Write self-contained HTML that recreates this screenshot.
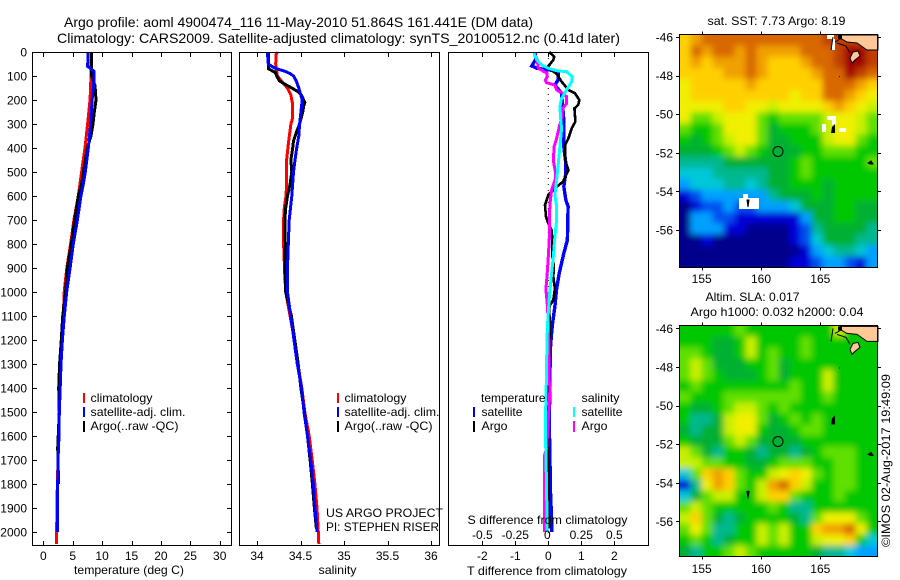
<!DOCTYPE html>
<html>
<head>
<meta charset="utf-8">
<title>Argo profile 4900474_116</title>
<style>
html,body{margin:0;padding:0;background:#fff;}
svg{display:block;font-family:"Liberation Sans",sans-serif;font-size:12px;fill:#000;}
</style>
</head>
<body>
<svg id="fig" width="900" height="580" viewBox="0 0 900 580" xmlns="http://www.w3.org/2000/svg">
<defs>
<filter id="soft" x="-10%" y="-10%" width="120%" height="120%"><feGaussianBlur stdDeviation="3.2"/></filter>
<clipPath id="clipA"><rect x="679.5" y="34.5" width="198" height="233"/></clipPath>
<clipPath id="clipB"><rect x="679.5" y="325.5" width="198" height="231"/></clipPath>
</defs>
<rect x="0" y="0" width="900" height="580" fill="#fff"/>
<text x="64" y="27" font-size="14" textLength="469" lengthAdjust="spacingAndGlyphs">Argo profile: aoml 4900474_116 11-May-2010 51.864S 161.441E (DM data)</text>
<text x="57" y="43" font-size="14" textLength="563" lengthAdjust="spacingAndGlyphs">Climatology: CARS2009. Satellite-adjusted climatology: synTS_20100512.nc (0.41d later)</text>

<g id="p1"></g>
<g id="p2"></g>
<g id="p3"></g>

<rect x="32.5" y="52.5" width="199" height="493" fill="none" stroke="#000"/>
<rect x="239.5" y="52.5" width="200" height="493" fill="none" stroke="#000"/>
<rect x="448.5" y="52.5" width="200" height="493" fill="none" stroke="#000"/>

<text x="74" y="574" textLength="110" lengthAdjust="spacingAndGlyphs">temperature (deg C)</text>
<text x="318.5" y="574" textLength="38" lengthAdjust="spacingAndGlyphs">salinity</text>
<text x="467" y="575" textLength="160" lengthAdjust="spacingAndGlyphs">T difference from climatology</text>
<text x="467.5" y="524" textLength="160" lengthAdjust="spacingAndGlyphs">S difference from climatology</text>
<text x="326" y="517" textLength="117" lengthAdjust="spacingAndGlyphs">US ARGO PROJECT</text>
<text x="326" y="531" textLength="113" lengthAdjust="spacingAndGlyphs">PI: STEPHEN RISER</text>

<g>
<rect x="83" y="393" width="2" height="10" fill="#f00"/><text x="90.5" y="402" textLength="62" lengthAdjust="spacingAndGlyphs">climatology</text>
<rect x="83" y="407" width="2" height="10" fill="#00f"/><text x="90.5" y="416" textLength="95" lengthAdjust="spacingAndGlyphs">satellite-adj. clim.</text>
<rect x="83" y="421" width="2" height="11" fill="#000"/><text x="90.5" y="430" textLength="88" lengthAdjust="spacingAndGlyphs">Argo(..raw -QC)</text>
</g>
<g>
<rect x="337" y="393" width="2" height="10" fill="#f00"/><text x="344.5" y="402" textLength="62" lengthAdjust="spacingAndGlyphs">climatology</text>
<rect x="337" y="407" width="2" height="10" fill="#00f"/><text x="344.5" y="416" textLength="95" lengthAdjust="spacingAndGlyphs">satellite-adj. clim.</text>
<rect x="337" y="421" width="2" height="11" fill="#000"/><text x="344.5" y="430" textLength="88" lengthAdjust="spacingAndGlyphs">Argo(..raw -QC)</text>
</g>
<g>
<text x="481" y="402" textLength="64.5" lengthAdjust="spacingAndGlyphs">temperature</text>
<rect x="473" y="407" width="2" height="10" fill="#00f"/><text x="481.5" y="416" textLength="41" lengthAdjust="spacingAndGlyphs">satellite</text>
<rect x="473" y="421" width="2" height="11" fill="#000"/><text x="481.5" y="430" textLength="26" lengthAdjust="spacingAndGlyphs">Argo</text>
<text x="581.5" y="402" textLength="38" lengthAdjust="spacingAndGlyphs">salinity</text>
<rect x="573" y="407" width="2" height="10" fill="#0ff"/><text x="581.5" y="416" textLength="41" lengthAdjust="spacingAndGlyphs">satellite</text>
<rect x="573" y="421" width="2" height="11" fill="#f0f"/><text x="581.5" y="430" textLength="26" lengthAdjust="spacingAndGlyphs">Argo</text>
</g>

<text x="707.5" y="25" textLength="138" lengthAdjust="spacingAndGlyphs">sat. SST: 7.73  Argo: 8.19</text>
<text x="705.5" y="301" textLength="94" lengthAdjust="spacingAndGlyphs">Altim. SLA: 0.017</text>
<text x="690.5" y="316" textLength="173" lengthAdjust="spacingAndGlyphs">Argo h1000: 0.032 h2000: 0.04</text>

<g clip-path="url(#clipA)"><g id="mapA" filter="url(#soft)"></g></g>
<g clip-path="url(#clipB)"><g id="mapB" filter="url(#soft)"></g></g>

<g id="whiteA" fill="#fff">
<rect x="827" y="116" width="9" height="4"/><rect x="832" y="120" width="4" height="5"/><rect x="822" y="124" width="4" height="8"/><rect x="839" y="128" width="7" height="4"/>
<rect x="739" y="198" width="20" height="11"/><rect x="743" y="194" width="5" height="4"/>
<rect x="827" y="35" width="7" height="4"/><rect x="832" y="39" width="3" height="11"/>
</g>

<g id="coastA" transform="translate(0,0)">
<path d="M840 35L878 35L878 50L867 50L857 43L847 42L840 38Z" fill="#ffc896" stroke="#000"/>
<path d="M833 37L831 50M835 42L842 38M837 43L846 46L850 53" fill="none" stroke="#000"/>
<path d="M850 58L853 52L858 51L860 56L855 60L852 63Z" fill="#ffc896" stroke="#000"/>
<rect x="838" y="35" width="4" height="4" fill="#000"/>
<path d="M831 133L832 127L835 124L835 133L832 133Z" fill="#000"/>
<path d="M747 200L749 200L748 207Z" fill="#000" stroke="#000"/>
<path d="M868 163L871 161L873 164L870 164Z" fill="#000" stroke="#000"/>
<rect x="839" y="76" width="1" height="1" fill="#000"/>
</g>
<g id="coastB" transform="translate(0,291.4)">
<path d="M840 35L878 35L878 50L867 50L857 43L847 42L840 38Z" fill="#ffc896" stroke="#000"/>
<path d="M833 37L831 50M835 42L842 38M837 43L846 46L850 53" fill="none" stroke="#000"/>
<path d="M850 58L853 52L858 51L860 56L855 60L852 63Z" fill="#ffc896" stroke="#000"/>
<rect x="838" y="35" width="4" height="4" fill="#000"/>
<path d="M831 133L832 127L835 124L835 133L832 133Z" fill="#000"/>
<path d="M747 200L749 200L748 207Z" fill="#000" stroke="#000"/>
<path d="M868 163L871 161L873 164L870 164Z" fill="#000" stroke="#000"/>
<rect x="839" y="76" width="1" height="1" fill="#000"/>
</g>

<circle cx="778" cy="151.5" r="5" fill="none" stroke="#000"/>
<circle cx="778" cy="441.5" r="5" fill="none" stroke="#000"/>
<rect x="679.5" y="34.5" width="198" height="233" fill="none" stroke="#000"/>
<rect x="679.5" y="325.5" width="198" height="231" fill="none" stroke="#000"/>
<text transform="translate(890,547) rotate(-90)" textLength="173" lengthAdjust="spacingAndGlyphs">©IMOS 02-Aug-2017 19:49:09</text>
<g id="overlay"></g>
</svg>

<script>
// ----- axis data -----
const depthTicks = [0,100,200,300,400,500,600,700,800,900,1000,1100,1200,1300,1400,1500,1600,1700,1800,1900,2000];
const tempTicks = [0,5,10,15,20,25,30];
const salTicks = [34,34.5,35,35.5,36];
const salTickLabels = ['34','34.5','35','35.5','36'];
const tDiffTicks = [-2,-1,0,1,2];
const sDiffTicks = [-0.5,-0.25,0,0.25,0.5];
const sDiffTickLabels = ['-0.5','-0.25','0','0.25','0.5'];
const lonTicks = [155,160,165];
const latTicks = [-46,-48,-50,-52,-54,-56];

// ----- temperature profiles -----
const tempClimDepth = [0,100,150,200,300,400,500,600,700,800,900,1000,1100,1200,1300,1400,1500,1600,1700,1800,1900,2050];
const tempClim = [8.2,8.1,8.05,7.95,7.54,7.1,6.52,5.95,5.2,4.65,4.0,3.56,3.4,3.1,2.95,2.8,2.7,2.6,2.5,2.4,2.3,2.28];
const tempSatDepth = [0,60,70,80,100,150,200,300,400,500,550,600,700,800,900,1000,1100,1200,1300,1400,1500,1600,1700,1800,1900,2000];
const tempSat = [7.65,7.54,8.1,8.6,8.65,8.5,8.3,8.05,7.65,7.15,6.8,6.4,5.8,5.1,4.55,3.98,3.57,3.24,3.01,2.87,2.72,2.67,2.5,2.45,2.38,2.38];
const tempArgoDepth = [0,100,140,200,250,300,350,400,550,600,700,800,900,1000,1100,1200,1300,1400,1500,1650,1800];
const tempArgo = [8.22,8.22,8.79,8.96,8.68,8.45,8.11,7.48,6.52,5.96,5.33,4.77,4.08,3.8,3.3,3.06,2.78,2.62,2.72,2.45,2.6];

// ----- salinity profiles -----
const salClimDepth = [0,10,50,100,130,150,180,210,280,300,370,450,550,600,650,700,800,920,1000,1100,1200,1300,1400,1500,1600,1700,1800,1900,2000,2050];
const salClim = [34.234,34.22,34.215,34.234,34.3,34.35,34.39,34.406,34.406,34.39,34.364,34.34,34.34,34.333,34.314,34.306,34.306,34.318,34.33,34.38,34.43,34.47,34.515,34.55,34.6,34.635,34.665,34.69,34.705,34.71];
const salSatDepth = [0,50,60,70,80,90,100,120,150,200,250,300,350,400,450,500,600,700,800,900,1000,1100,1200,1300,1400,1500,1600,1700,1800,1900,2000];
const salSat = [34.12,34.13,34.17,34.226,34.32,34.38,34.42,34.45,34.48,34.52,34.505,34.49,34.48,34.456,34.437,34.42,34.4,34.37,34.36,34.35,34.35,34.387,34.425,34.463,34.513,34.54,34.58,34.617,34.647,34.667,34.69];
const salArgoDepth = [0,70,85,100,120,130,140,150,165,180,210,220,250,300,330,370,400,450,500,550,600,650,700,800,900,1000,1100,1200,1300,1400,1500,1600,1700,1800,1900,1980];
const salArgo = [34.13,34.13,34.21,34.226,34.257,34.3,34.35,34.4,34.47,34.51,34.55,34.54,34.525,34.49,34.456,34.42,34.41,34.39,34.4,34.38,34.35,34.33,34.32,34.325,34.32,34.33,34.395,34.435,34.473,34.505,34.545,34.58,34.61,34.637,34.66,34.68];

// ----- differences from climatology -----
const tDiffSatDepth = [0,30,58,68,75,82,116,137,172,283,394,464,505,560,616,644,783,839,922,990,1060,1130,1170,1240,1550,1850,1970,2000];
const tDiffSat = [-0.4,-0.38,-0.5,-0.35,0.05,0.3,0.3,0.2,0.4,0.47,0.47,0.53,0.53,0.47,0.53,0.6,0.58,0.47,0.33,0.25,0.2,0.13,0.1,0.06,0.03,0.07,0.11,0.11];
const tDiffArgoDepth = [0,20,33,60,68,90,123,158,172,200,220,235,290,318,360,388,450,492,540,568,596,638,686,714,742,783,853,894,936,985,1033,1060,1200,1580,1830,1985];
const tDiffArgo = [0.03,0.18,0.15,0,0,0.25,0.4,0.61,0.81,0.94,0.91,0.79,0.82,0.71,0.61,0.51,0.51,0.61,0.45,0.2,0,-0.1,-0.07,0,0.1,0.12,0.12,0.17,0.15,0.2,0.15,0.03,0.05,-0.02,0,0.03];
const sDiffArgoDepth = [6,33,68,89,103,117,128,138,158,172,186,214,235,276,311,360,394,450,499,526,575,631,686,769,853,922,990,1045,1155,1364,1400,1445,1650,1680,2000];
const sDiffArgo = [-0.106,-0.083,-0.076,-0.008,-0.008,-0.023,-0.013,0.05,0.063,0.109,0.139,0.139,0.109,0.101,0.083,0.063,0.045,0.038,0.053,0.056,0.025,0.013,0.008,0.008,0,-0.008,-0.018,-0.008,0.003,0.005,0.013,0.008,-0.012,-0.028,-0.028];
const sDiffSatDepth = [6,33,54,68,78,82,103,124,158,193,228,276,318,394,464,533,596,644,700,769,853,922,1019,1130,1200,1380,1550,1680,1820,2000];
const sDiffSat = [-0.109,-0.088,-0.05,0,0.063,0.139,0.182,0.177,0.139,0.101,0.088,0.093,0.101,0.088,0.076,0.063,0.05,0.063,0.063,0.05,0.038,0.025,0.008,-0.005,-0.01,-0.015,-0.023,-0.018,-0.013,-0.008];

// ----- heatmap values (colour-scale index 0-15) -----
const sstGrid = [
[11,12,13,13,13,13,13,13,13,13,13,13,13,14,14,14,14,14],
[11,13,12,13,13,12,13,12,12,12,12,13,13,13,14,15,15,14],
[11,12,11,12,12,12,13,12,11,11,11,12,13,13,14,15,15,14],
[11,11,11,11,12,12,13,12,11,11,11,11,12,13,13,15,14,13],
[10,11,11,11,11,11,12,11,11,11,11,11,11,13,13,13,12,11],
[10,11,11,11,11,11,11,11,11,11,10,11,11,13,13,12,11,10],
[10,10,10,10,11,11,10,10,9,10,10,10,10,11,12,11,10,9],
[10,8,8,9,10,10,10,8,7,8,8,8,8,9,10,10,9,8],
[8,7,7,8,10,10,10,8,6,7,7,7,8,9,10,10,9,8],
[7,6,7,8,9,10,10,8,6,6,7,7,7,9,10,10,8,7],
[6,6,6,7,8,9,8,7,6,6,6,7,7,8,8,8,7,7],
[5,5,5,5,6,6,6,6,6,6,7,8,7,7,7,7,7,8],
[4,4,4,5,5,5,5,5,6,6,7,8,7,7,7,7,7,7],
[3,4,4,4,5,5,4,5,6,6,7,7,7,6,7,7,7,7],
[1,2,3,3,3,3,3,3,5,6,6,6,7,6,7,7,7,7],
[0,1,2,2,3,2,2,3,3,3,4,6,6,6,7,7,6,6],
[0,3,3,2,2,1,1,1,1,1,1,3,6,6,7,7,6,6],
[0,3,3,3,1,1,0,0,0,0,1,2,5,6,6,6,6,5],
[0,0,1,0,0,0,0,0,0,0,1,2,4,6,6,6,5,5],
[0,0,0,0,0,0,0,0,0,0,0,1,3,4,5,5,4,3],
[0,0,0,0,0,0,0,0,0,0,1,1,2,3,3,2,1,3]
];
const slaGrid = [
[7,7,7,7,7,8,7,7,7,7,7,7,7,7,9,7,7,7],
[7,7,7,6,6,7,9,7,7,7,7,8,7,7,7,7,7,7],
[8,8,7,6,6,7,9,7,8,7,7,8,7,7,7,7,7,7],
[8,9,8,6,6,6,7,7,8,6,7,7,7,7,7,7,7,7],
[8,9,8,7,6,6,6,7,8,6,7,7,7,9,7,7,7,7],
[7,8,7,7,7,7,7,7,7,7,8,7,7,9,7,7,7,7],
[8,7,7,7,8,8,8,8,8,8,8,7,7,8,7,7,7,7],
[7,6,6,7,8,9,9,8,7,8,7,7,7,7,7,7,7,7],
[7,5,5,6,9,10,10,8,6,7,8,7,8,7,7,7,7,7],
[6,5,6,6,9,10,10,7,6,6,7,8,8,7,7,7,7,7],
[7,6,6,6,8,9,8,6,6,6,6,7,7,7,7,7,7,7],
[9,8,6,5,7,7,6,5,6,6,5,6,7,8,8,8,7,7],
[9,9,8,8,7,7,6,6,7,8,8,8,7,7,8,8,7,7],
[4,8,11,12,11,8,7,7,9,10,11,10,8,7,8,8,7,7],
[1,5,10,12,11,8,7,9,12,13,11,9,7,7,8,8,7,7],
[4,6,8,9,9,7,7,9,11,11,8,7,7,7,8,7,7,7],
[8,9,8,7,7,7,7,7,8,7,5,5,7,7,7,7,7,7],
[9,11,8,6,5,6,7,7,7,7,6,5,8,10,10,10,8,7],
[8,10,8,5,5,7,7,9,8,9,7,7,11,12,12,13,10,7],
[7,8,7,5,6,7,7,9,8,9,7,7,9,10,10,11,7,4],
[6,5,7,7,8,9,8,7,7,7,7,7,6,5,5,4,3,3]
];
const colorScale = ['#00008c','#0000d8','#0050f0','#00a0ff','#00c8d8','#00b890','#00b030','#00c800','#60e000','#c8f000','#f0f000','#ffd000','#f0a000','#d86800','#c04000','#a00000'];

// ----- scales -----
const svgNS = 'http://www.w3.org/2000/svg';
function yDepth(d){ return 52 + d * 0.24; }
function xTemp(t){ return 43.3 + t * 5.88; }
function xSal(s){ return 257 + (s - 34) * 87; }
function xTDiff(t){ return 548.3 + t * 33; }
function xSDiff(s){ return 548.3 + s * 132; }
function xLon(l){ return 701.7 + (l - 155) * 11.86; }
function yLat(l, top){ return top + (-46 - l) * 19.3; }

function make(tag, parent, name){
  const el = document.createElementNS(svgNS, tag);
  
  
  parent.appendChild(el);
  return el;
}
function drawProfile(parent, name, depth, values, xScale, color, width){
  const el = make('polyline', parent, name);
  el.setAttribute('points', depth.map((d,i)=>xScale(values[i]).toFixed(1)+','+yDepth(d).toFixed(1)).join(' '));
  el.setAttribute('fill', 'none');
  el.setAttribute('stroke', color);
  el.setAttribute('stroke-width', width);
  el.setAttribute('shape-rendering', 'crispEdges');
}
function tick(parent, name, x1, y1, x2, y2){
  const el = make('line', parent, name);
  el.setAttribute('x1', x1); el.setAttribute('y1', y1);
  el.setAttribute('x2', x2); el.setAttribute('y2', y2);
  el.setAttribute('stroke', '#000');
  el.setAttribute('shape-rendering', 'crispEdges');
}
function label(parent, name, x, y, str, anchor){
  const el = make('text', parent, name);
  el.setAttribute('x', x); el.setAttribute('y', y);
  el.setAttribute('text-anchor', anchor);
  el.textContent = str;
}
function drawGrid(parent, grid, left, top, width, height){
  const rows = grid.length, cols = grid[0].length;
  const cw = width / cols, ch = height / rows;
  grid.forEach((row, r) => row.forEach((v, c) => {
    const el = make('rect', parent, 'heatmap-cell');
    const padL = c === 0 ? 10 : 0, padR = c === cols-1 ? 10 : 0;
    const padT = r === 0 ? 10 : 0, padB = r === rows-1 ? 10 : 0;
    el.setAttribute('x', (left + c*cw - padL).toFixed(2));
    el.setAttribute('y', (top + r*ch - padT).toFixed(2));
    el.setAttribute('width', (cw + 0.5 + padL + padR).toFixed(2));
    el.setAttribute('height', (ch + 0.5 + padT + padB).toFixed(2));
    el.setAttribute('fill', colorScale[v]);
  }));
}

// ----- panels -----
const p1 = document.getElementById('p1');
const p2 = document.getElementById('p2');
const p3 = document.getElementById('p3');
const ov = document.getElementById('overlay');

drawProfile(p1, 'temperature-climatology-line', tempClimDepth, tempClim, xTemp, '#f00', 3);
drawProfile(p1, 'temperature-argo-line', tempArgoDepth, tempArgo, xTemp, '#000', 3);
drawProfile(p1, 'temperature-satellite-line', tempSatDepth, tempSat, xTemp, '#00f', 3);

drawProfile(p2, 'salinity-climatology-line', salClimDepth, salClim, xSal, '#f00', 3);
drawProfile(p2, 'salinity-argo-line', salArgoDepth, salArgo, xSal, '#000', 3);
drawProfile(p2, 'salinity-satellite-line', salSatDepth, salSat, xSal, '#00f', 3);

const zeroLine = make('line', p3, 'zero-difference-line');
zeroLine.setAttribute('x1', xTDiff(0));
zeroLine.setAttribute('x2', xTDiff(0));
zeroLine.setAttribute('y1', yDepth(0));
zeroLine.setAttribute('y2', yDepth(2050));
zeroLine.setAttribute('stroke', '#000');
zeroLine.setAttribute('stroke-width', '1');
zeroLine.setAttribute('stroke-dasharray', '1 5');

drawProfile(p3, 't-diff-satellite-line', tDiffSatDepth, tDiffSat, xTDiff, '#00f', 3.4);
drawProfile(p3, 't-diff-argo-line', tDiffArgoDepth, tDiffArgo, xTDiff, '#000', 2.6);
drawProfile(p3, 's-diff-argo-line', sDiffArgoDepth, sDiffArgo, xSDiff, '#f0f', 3);
drawProfile(p3, 's-diff-satellite-line', sDiffSatDepth, sDiffSat, xSDiff, '#0ff', 3);

// ----- depth axis -----
depthTicks.forEach(d => {
  const y = Math.round(yDepth(d)) + 0.5;
  tick(ov, 'depth-tick-left', 32.5, y, 37, y);
  tick(ov, 'depth-tick-right', 227, y, 231.5, y);
  label(ov, 'depth-tick-label', 27, yDepth(d) + 4.5, String(d), 'end');
});

// ----- x axes -----
tempTicks.forEach(t => {
  const x = Math.round(xTemp(t)) + 0.5;
  tick(ov, 'temperature-tick-top', x, 52.5, x, 57);
  tick(ov, 'temperature-tick-bottom', x, 541, x, 545.5);
  label(ov, 'temperature-tick-label', xTemp(t), 560, String(t), 'middle');
});
salTicks.forEach((s, i) => {
  const x = Math.round(xSal(s)) + 0.5;
  tick(ov, 'salinity-tick-top', x, 52.5, x, 57);
  tick(ov, 'salinity-tick-bottom', x, 541, x, 545.5);
  label(ov, 'salinity-tick-label', xSal(s), 560, salTickLabels[i], 'middle');
});
tDiffTicks.forEach(t => {
  const x = Math.round(xTDiff(t)) + 0.5;
  tick(ov, 't-diff-tick-top', x, 52.5, x, 57);
  tick(ov, 't-diff-tick-bottom', x, 541, x, 545.5);
  label(ov, 't-diff-tick-label', xTDiff(t), 560, String(t), 'middle');
});
sDiffTicks.forEach((s, i) => {
  label(ov, 's-diff-tick-label', xSDiff(s) - (i===2?1:0), 539, sDiffTickLabels[i], 'middle');
});

// ----- maps -----
drawGrid(document.getElementById('mapA'), sstGrid, 679.5, 34.5, 198, 233);
drawGrid(document.getElementById('mapB'), slaGrid, 679.5, 325.5, 198, 231);

[[37, 267.5, 283, 34.5], [328.4, 556.5, 573, 325.5]].forEach(cfg => {
  const top = cfg[0], bottom = cfg[1], lblY = cfg[2], frameTop = cfg[3];
  lonTicks.forEach(l => {
    const x = Math.round(xLon(l)) + 0.5;
    tick(ov, 'map-longitude-tick-top', x, frameTop - 3, x, frameTop);
    tick(ov, 'map-longitude-tick-bottom', x, bottom, x, bottom + 3);
    label(ov, 'map-longitude-label', xLon(l), lblY, String(l), 'middle');
  });
  latTicks.forEach(l => {
    const y = Math.round(yLat(l, top)) + 0.5;
    tick(ov, 'map-latitude-tick-left', 676, y, 679.5, y);
    tick(ov, 'map-latitude-tick-right', 877.5, y, 881, y);
    label(ov, 'map-latitude-label', 673, yLat(l, top) + 4.5, String(l), 'end');
  });
});
</script>
</body>
</html>
